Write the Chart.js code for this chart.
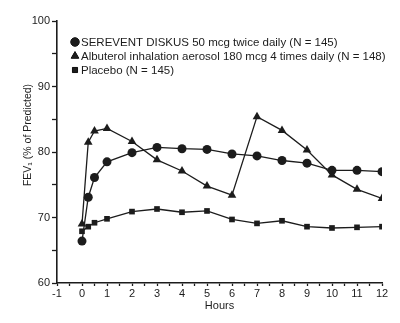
<!DOCTYPE html>
<html>
<head>
<meta charset="utf-8">
<script src="https://cdn.jsdelivr.net/npm/chart.js@4/dist/chart.umd.min.js"></script>
<style>
    html, body { margin: 0; padding: 0; background: #fff; }
    #wrap { width: 400px; height: 323px; }
</style>
</head>
<body>
<div id="wrap"><canvas id="fevChart" width="400" height="323"></canvas></div>
<script>
// hours after dose
const hours = [0, 0.25, 0.5, 1, 2, 3, 4, 5, 6, 7, 8, 9, 10, 11, 12];

// FEV1 (% of predicted)
const sereventValues = [66.4, 73.1, 76.1, 78.5, 79.9, 80.7, 80.5, 80.4, 79.7, 79.4, 78.7, 78.3, 77.2, 77.2, 77.0];
const albuterolValues = [69.0, 81.5, 83.2, 83.6, 81.6, 78.8, 77.1, 74.8, 73.4, 85.4, 83.3, 80.3, 76.5, 74.3, 72.9];
const placeboValues = [67.9, 68.6, 69.2, 69.8, 70.9, 71.3, 70.8, 71.0, 69.7, 69.1, 69.5, 68.6, 68.4, 68.5, 68.6];

const seriesLabels = [
    'SEREVENT DISKUS 50 mcg twice daily (N = 145)',
    'Albuterol inhalation aerosol 180 mcg 4 times daily (N = 148)',
    'Placebo (N = 145)'
];

const xTicks = [-1, 0, 1, 2, 3, 4, 5, 6, 7, 8, 9, 10, 11, 12];
const yTicks = [60, 70, 80, 90, 100];

const FONT = "'Liberation Sans Narrow', 'Liberation Sans', Arial, sans-serif";
const INK = '#1c1c1c';

function toPoints(values) {
    return hours.map((h, i) => ({x: h, y: values[i]}));
}

function series(label, values, style, radius) {
    return {
        label: label,
        data: toPoints(values),
        pointStyle: style,
        pointRadius: radius,
        borderColor: INK,
        backgroundColor: INK,
        pointBackgroundColor: INK,
        pointBorderColor: INK,
        pointBorderWidth: 0,
        borderWidth: 1.3,
        tension: 0,
        fill: false
    };
}

// legend drawn inside the plot, plus the rotated y title
const insideLegend = {
    id: 'insideLegend',
    afterDraw(chart) {
        const ctx = chart.ctx;
        const area = chart.chartArea;
        const sizes = [4.2, 4.4, 3.6];
        ctx.save();
        ctx.font = '11.5px ' + FONT;
        ctx.fillStyle = INK;
        ctx.textBaseline = 'middle';
        chart.data.datasets.forEach((ds, i) => {
            const y = area.top + 21 + i * 14;
            Chart.helpers.drawPoint(ctx, {
                pointStyle: ds.pointStyle, radius: sizes[i], borderWidth: 1
            }, area.left + 18, y);
            ctx.fill();
            ctx.fillText(ds.label, area.left + 24, y + 0.5);
        });

        ctx.translate(28, 135);
        ctx.rotate(-Math.PI / 2);
        ctx.textAlign = 'center';
        ctx.font = '10.5px ' + FONT;
        ctx.fillText('FEV\u2081 (% of Predicted)', 0, 0);
        ctx.restore();
    }
};

const ctx = document.getElementById('fevChart');

new Chart(ctx, {
    type: 'line',
    data: {
        datasets: [
            series(seriesLabels[0], sereventValues, 'circle', 4.5),
            series(seriesLabels[1], albuterolValues, 'triangle', 5),
            series(seriesLabels[2], placeboValues, 'rect', 4)
        ]
    },
    options: {
        responsive: false,
        animation: false,
        layout: {
            padding: {top: 21, right: 18, bottom: 10, left: 0}
        },
        plugins: {
            legend: {display: false},
            tooltip: {enabled: false}
        },
        scales: {
            x: {
                type: 'linear',
                min: -1,
                max: 12,
                afterFit: (scale) => { scale.height = 30; },
                afterBuildTicks: (scale) => {
                    const t = [];
                    for (let v = -1; v <= 12; v += 0.5) t.push({value: v});
                    scale.ticks = t;
                },
                ticks: {
                    autoSkip: false,
                    maxRotation: 0,
                    padding: 1,
                    color: INK,
                    font: {family: FONT, size: 11},
                    callback: (v) => xTicks.includes(v) ? String(v) : ''
                },
                grid: {
                    drawOnChartArea: false,
                    drawTicks: true,
                    tickLength: 3,
                    tickColor: INK,
                    tickWidth: 1.3
                },
                border: {color: INK, width: 1.6},
                title: {
                    display: true,
                    text: 'Hours',
                    color: INK,
                    font: {family: FONT, size: 11},
                    padding: {top: 0, bottom: 0}
                }
            },
            y: {
                min: 60,
                max: 100,
                afterFit: (scale) => { scale.width = 57; },
                afterBuildTicks: (scale) => {
                    const t = [];
                    for (let v = 60; v <= 100; v += 5) t.push({value: v});
                    scale.ticks = t;
                },
                ticks: {
                    padding: 2,
                    color: INK,
                    font: {family: FONT, size: 11},
                    callback: (v) => yTicks.includes(v) ? String(v) : ''
                },
                grid: {
                    drawOnChartArea: false,
                    drawTicks: true,
                    tickLength: 5,
                    tickColor: INK,
                    tickWidth: 1.3
                },
                border: {color: INK, width: 1.6}
            }
        }
    },
    plugins: [insideLegend]
});
</script>
</body>
</html>
